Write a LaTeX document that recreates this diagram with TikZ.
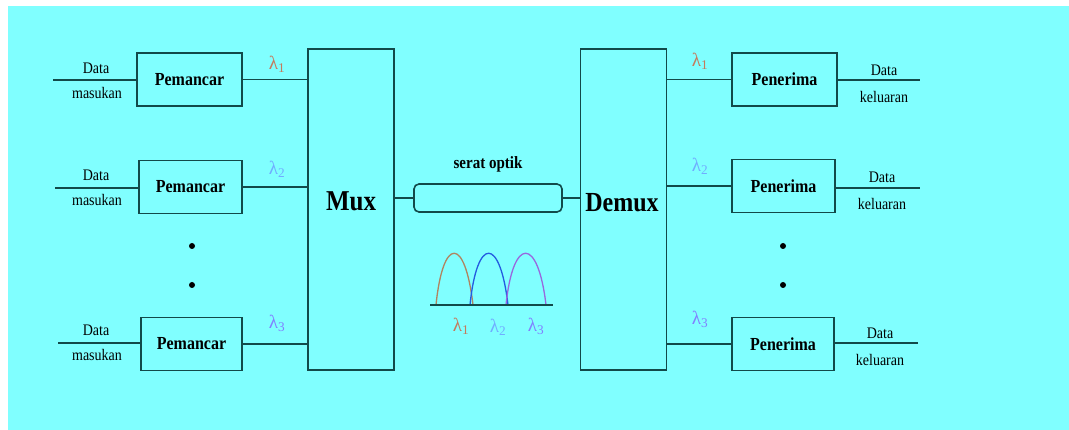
\documentclass[tikz,border=0pt]{standalone}
\usepackage{fontspec}
\setmainfont{Liberation Serif}
\usepackage{tikz}
\usetikzlibrary{positioning,calc}
\definecolor{wdmcyan}{RGB}{128,255,255}
\definecolor{wdmline}{RGB}{18,74,74}
\definecolor{lamone}{RGB}{196,122,92}
\definecolor{lamtwo}{RGB}{112,172,255}
\definecolor{lamthree}{RGB}{128,128,255}
\definecolor{humpone}{RGB}{176,132,96}
\definecolor{humptwo}{RGB}{36,92,224}
\definecolor{humpthree}{RGB}{152,104,222}
\newcommand{\tallbox}[1]{\scalebox{1}[1.15]{#1}}

\begin{document}
\begin{tikzpicture}[
  x=1pt, y=-1pt,
  wire/.style={draw=wdmline, line width=1.6pt},
  unit/.style={rectangle, draw=wdmline, line width=1.6pt, fill=wdmcyan,
    inner sep=0pt, minimum height=53pt, font=\fontsize{16}{18}\selectfont\bfseries},
  muxbox/.style={rectangle, draw=wdmline, line width=1.6pt, fill=wdmcyan,
    inner sep=0pt, minimum width=86pt, minimum height=321pt},
  fiber/.style={rectangle, rounded corners=5pt, draw=wdmline, line width=1.6pt,
    fill=wdmcyan, inner sep=0pt, minimum width=148pt, minimum height=28pt},
  datalbl/.style={inner sep=0pt, font=\fontsize{14}{15}\selectfont},
  lam/.style={inner sep=0pt, font=\fontsize{19}{20}\selectfont},
  dotmark/.style={circle, fill=black, inner sep=0pt, minimum size=6pt},
  hump/.style={line width=1.3pt}
]
\useasboundingbox (0,0) rectangle (1069,430);
\fill[wdmcyan] (8,6) rectangle (1069,430);

% transmitters and multiplexer
\node[unit, minimum width=105pt] (tx1) at (189.5,79.5) {\tallbox{Pemancar}};
\node[unit, minimum width=103pt] (tx2) at (190.5,187) {\tallbox{Pemancar}};
\node[unit, minimum width=101pt] (tx3) at (191.5,344) {\tallbox{Pemancar}};
\node[muxbox] (mux) at (351,209.5) {};
\node[font=\fontsize{25}{28}\selectfont\bfseries] (muxlbl) at (351,201) {\tallbox{Mux}};

\coordinate (in1) at (53,80);
\coordinate (in2) at (55,188);
\coordinate (in3) at (58,343);
\draw[wire] (in1) -- (tx1.west |- in1);
\draw[wire] (in2) -- (tx2.west |- in2);
\draw[wire] (in3) -- (tx3.west |- in3);
\foreach \i/\y in {1/68, 2/175, 3/330} {
  \node[datalbl] (din\i) at (96,\y) {\tallbox{Data}};
  \node[datalbl] (min\i) at (97,\y+25) {\tallbox{masukan}};
}

\draw[wire] (tx1.east) -- (tx1.east -| mux.west);
\draw[wire] (tx2.east) -- (tx2.east -| mux.west);
\draw[wire] (tx3.east) -- (tx3.east -| mux.west);
\node[lam, text=lamone] (la1) at (277,64) {λ\textsubscript{1}};
\node[lam, text=lamtwo] (la2) at (277,169) {λ\textsubscript{2}};
\node[lam, text=lamthree] (la3) at (277,323) {λ\textsubscript{3}};

\node[dotmark] (ldot1) at (192,246) {};
\node[dotmark] (ldot2) at (192,285) {};

% fibre link
\node[fiber] (fib) at (488,198) {};
\node[font=\fontsize{15}{16}\selectfont\bfseries, above=7pt of fib] (fiblbl) {\tallbox{serat optik}};
\node[muxbox] (demux) at (623.5,209.5) {};
\node[font=\fontsize{24}{28}\selectfont\bfseries] (demuxlbl) at (622,203) {\tallbox{Demux}};
\draw[wire] (mux.east |- fib.west) -- (fib.west);
\draw[wire] (fib.east) -- (fib.east -| demux.west);

% spectrum of the three channels
\coordinate (sl) at (430,305);
\coordinate (sr) at (553,305);
\draw[hump, draw=humpone] (436,305) .. controls (443,236) and (465,236) .. (473,305);
\draw[hump, draw=humptwo] (470,305) .. controls (477,236) and (500,236) .. (508,305);
\draw[hump, draw=humpthree] (506,305) .. controls (513,236) and (538,236) .. (546,305);
\draw[line width=1.4pt, draw=wdmline] (sl) -- (sr);
\node[lam, text=lamone] (sa1) at (461,326) {λ\textsubscript{1}};
\node[lam, text=lamtwo] (sa2) at (498,327) {λ\textsubscript{2}};
\node[lam, text=lamthree] (sa3) at (536,326) {λ\textsubscript{3}};

% receivers
\node[unit, minimum width=105pt] (rx1) at (784.5,79.5) {\tallbox{Penerima}};
\node[unit, minimum width=103pt] (rx2) at (783.5,186) {\tallbox{Penerima}};
\node[unit, minimum width=102pt] (rx3) at (783,344) {\tallbox{Penerima}};
\draw[wire] (rx1.west -| demux.east) -- (rx1.west);
\draw[wire] (rx2.west -| demux.east) -- (rx2.west);
\draw[wire] (rx3.west -| demux.east) -- (rx3.west);
\node[lam, text=lamone] (lb1) at (700,61) {λ\textsubscript{1}};
\node[lam, text=lamtwo] (lb2) at (700,166) {λ\textsubscript{2}};
\node[lam, text=lamthree] (lb3) at (700,319) {λ\textsubscript{3}};

\coordinate (out1) at (920,80);
\coordinate (out2) at (920,188);
\coordinate (out3) at (918,343);
\draw[wire] (rx1.east |- out1) -- (out1);
\draw[wire] (rx2.east |- out2) -- (out2);
\draw[wire] (rx3.east |- out3) -- (out3);
\foreach \i/\y/\x in {1/70/884, 2/177/882, 3/333/880} {
  \node[datalbl] (dout\i) at (\x,\y) {\tallbox{Data}};
  \node[datalbl] (kout\i) at (\x,\y+27) {\tallbox{keluaran}};
}

\node[dotmark] (rdot1) at (783,246) {};
\node[dotmark] (rdot2) at (783,285) {};
\end{tikzpicture}
\end{document}
